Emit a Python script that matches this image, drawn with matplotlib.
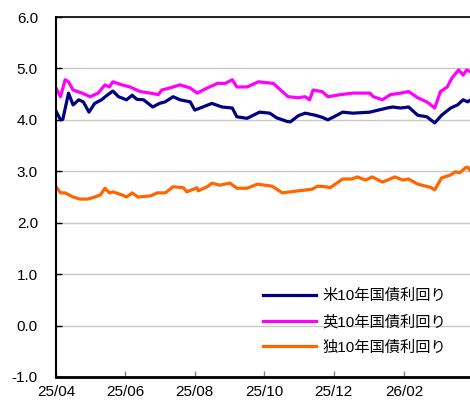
import matplotlib
matplotlib.use("Agg")
import matplotlib.pyplot as plt
import matplotlib.dates as mdates
import pandas as pd

plt.rcParams['font.family'] = ['Liberation Sans', 'Noto Sans CJK JP', 'DejaVu Sans']

start = pd.Timestamp("2025-04-01")

us_days = [0, 4, 6, 11, 15, 20, 24, 29, 34, 40, 45, 50, 55, 62, 67, 71, 77, 85, 91, 96,
           103, 109, 118, 122, 129, 137, 146, 155, 159, 168, 179, 188, 194, 203, 206, 213,
           219, 228, 234, 239, 247, 252, 261, 276, 291, 296, 303, 310, 318, 326, 333, 339,
           347, 353, 358, 362, 364]
us_vals = [4.17, 4.00, 4.01, 4.52, 4.29, 4.39, 4.35, 4.15, 4.32, 4.39, 4.48, 4.56, 4.45, 4.39,
           4.48, 4.40, 4.39, 4.25, 4.32, 4.35, 4.45, 4.39, 4.35, 4.19, 4.25, 4.32, 4.25, 4.23,
           4.06, 4.03, 4.15, 4.13, 4.04, 3.97, 3.96, 4.08, 4.13, 4.09, 4.05, 4.00, 4.09, 4.15,
           4.13, 4.15, 4.23, 4.25, 4.23, 4.25, 4.09, 4.06, 3.94, 4.09, 4.23, 4.29, 4.39, 4.35,
           4.38]

uk_days = [0, 4, 8, 11, 15, 23, 30, 37, 43, 47, 50, 58, 65, 74, 83, 90, 93, 100, 109, 118,
           124, 133, 142, 149, 155, 159, 168, 178, 191, 199, 204, 213, 219, 223, 226, 234,
           239, 250, 261, 276, 279, 287, 294, 303, 310, 318, 326, 333, 338, 344, 348, 354,
           358, 361, 364]
uk_vals = [4.62, 4.45, 4.78, 4.74, 4.58, 4.52, 4.45, 4.52, 4.68, 4.64, 4.74, 4.68, 4.64, 4.55,
           4.52, 4.49, 4.58, 4.62, 4.68, 4.62, 4.52, 4.62, 4.71, 4.71, 4.78, 4.64, 4.64, 4.74,
           4.71, 4.55, 4.45, 4.43, 4.45, 4.39, 4.58, 4.55, 4.45, 4.49, 4.52, 4.52, 4.45, 4.39,
           4.49, 4.52, 4.55, 4.43, 4.35, 4.23, 4.55, 4.64, 4.81, 4.97, 4.87, 4.97, 4.94]

de_days = [0, 4, 8, 15, 21, 28, 34, 39, 43, 47, 50, 58, 62, 67, 72, 83, 89, 96, 103, 112,
           115, 124, 125, 133, 137, 144, 153, 159, 168, 177, 190, 199, 206, 213, 225, 230,
           237, 241, 252, 260, 265, 272, 278, 287, 298, 305, 310, 318, 329, 333, 339, 347,
           351, 355, 360, 362, 364]
de_vals = [2.70, 2.58, 2.58, 2.50, 2.46, 2.46, 2.50, 2.54, 2.67, 2.58, 2.60, 2.54, 2.50, 2.58,
           2.50, 2.52, 2.58, 2.58, 2.70, 2.68, 2.60, 2.68, 2.62, 2.70, 2.77, 2.73, 2.77, 2.67,
           2.67, 2.75, 2.71, 2.58, 2.60, 2.62, 2.65, 2.71, 2.70, 2.68, 2.85, 2.85, 2.89, 2.83,
           2.89, 2.79, 2.89, 2.83, 2.85, 2.75, 2.69, 2.64, 2.87, 2.93, 2.99, 2.97, 3.07, 3.08,
           3.02]

series_labels = ["米10年国債利回り", "英10年国債利回り", "独10年国債利回り"]
series_colors = ["#000080", "#FF00FF", "#FF6600"]

y_ticks = [-1.0, 0.0, 1.0, 2.0, 3.0, 4.0, 5.0, 6.0]
x_tick_dates = ["2025-04-01", "2025-06-01", "2025-08-01", "2025-10-01", "2025-12-01", "2026-02-01"]

fig = plt.figure(figsize=(4.70, 4.04), dpi=100)
ax = fig.add_axes([56/470, 1-377/404, 1-56/470, 360/404])

for days, vals, lab, col in zip([us_days, uk_days, de_days], [us_vals, uk_vals, de_vals],
                                series_labels, series_colors):
    dates = [start + pd.Timedelta(days=d) for d in days]
    ax.plot(dates, vals, color=col, lw=2.3, label=lab, solid_joinstyle='round')

ax.set_ylim(-1.0, 6.0)
ax.set_yticks(y_ticks)
ax.set_yticklabels([f"{v:.1f}" for v in y_ticks])
ax.set_xlim(start, pd.Timestamp("2026-03-31"))
ax.set_xticks([pd.Timestamp(d) for d in x_tick_dates])
ax.xaxis.set_major_formatter(mdates.DateFormatter("%y/%m"))

ax.grid(axis='y', color='#C8C8C8', lw=1.0)
ax.set_axisbelow(True)
ax.spines['right'].set_visible(False)
ax.spines['top'].set_color('black')
ax.spines['top'].set_linewidth(1.2)
ax.spines['left'].set_linewidth(1.5)
ax.spines['bottom'].set_linewidth(2.0)
ax.tick_params(axis='y', direction='in', length=4, width=1, pad=13, labelsize=11)
ax.tick_params(axis='x', direction='in', length=4, width=1, color='#808080', pad=6, labelsize=11)

ax.legend(loc='center left', bbox_to_anchor=(207/414, (377-322)/360), frameon=False,
          fontsize=11, handlelength=3.5, handletextpad=0.4, borderpad=0, borderaxespad=0,
          labelspacing=0.75)

fig.savefig("out.png", dpi=100)
